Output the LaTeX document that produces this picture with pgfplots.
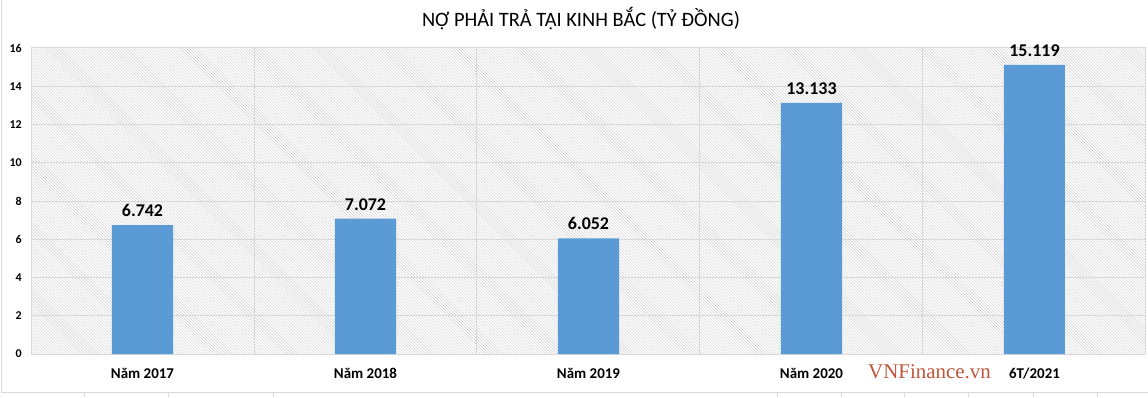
\documentclass[border=0pt]{standalone}
\usepackage{fontspec}
\setmainfont{Carlito}
\newfontfamily\wmfont{Liberation Serif}
\usepackage{pgfplots}
\pgfplotsset{compat=1.18}
\usetikzlibrary{patterns}
\definecolor{barblue}{RGB}{91,155,213}
\definecolor{gridgray}{RGB}{217,217,217}
\definecolor{wm}{RGB}{192,85,60}
\begin{document}
\begin{tikzpicture}[x=1bp,y=1bp]
\path[use as bounding box] (0,0) rectangle (1148,397);
\draw[gridgray, line width=1bp] (1.5,397) -- (1.5,4.5) -- (1148,4.5);
\foreach \xx in {84,168,273,777,841,904,968,1033,1097} {\draw[gridgray, line width=1bp] (\xx,0) -- (\xx,4.5);}
\node[font=\fontsize{20.5}{20.5}\selectfont] at (581,378) {NỢ PHẢI TRẢ TẠI KINH BẮC (TỶ ĐỒNG)};
\begin{axis}[at={(31bp,43bp)}, anchor=south west, scale only axis,
  width=1115bp, height=306bp,
  xmin=-0.5, xmax=4.5, ymin=0, ymax=16,
  ytick={0,2,...,16},
  xtick={0,...,4},
  xticklabels={Năm 2017, Năm 2018, Năm 2019, Năm 2020, 6T/2021},
  minor xtick={0.5,1.5,2.5,3.5},
  xminorgrids, ymajorgrids,
  major tick length=0pt, minor tick length=0pt,
  grid style={gridgray, line width=1bp},
  minor grid style={gridgray, line width=1bp},
  axis line style={gridgray, line width=1bp},
  axis background/.style={pattern=north west lines, pattern color=gray!40},
  /pgf/number format/assume math mode=true,
  yticklabel style={font=\bfseries\fontsize{12}{12}\selectfont, inner sep=0pt, xshift=-9bp},
  xticklabel style={font=\bfseries\fontsize{15}{15}\selectfont, inner sep=0pt, yshift=-14bp},
  ybar, bar width=61bp, bar shift=0pt,
  point meta=explicit symbolic,
  nodes near coords,
  nodes near coords style={font=\bfseries\fontsize{18}{18}\selectfont, anchor=south, inner sep=0pt, yshift=8bp},
]
\addplot[fill=barblue, draw=none] coordinates {
 (0,6.742) [6.742]
 (1,7.072) [7.072]
 (2,6.052) [6.052]
 (3,13.133) [13.133]
 (4,15.119) [15.119]
};
\end{axis}
\node[font=\wmfont\fontsize{21}{21}\selectfont, text=wm] at (929.5,25) {VNFinance.vn};
\end{tikzpicture}
\end{document}
